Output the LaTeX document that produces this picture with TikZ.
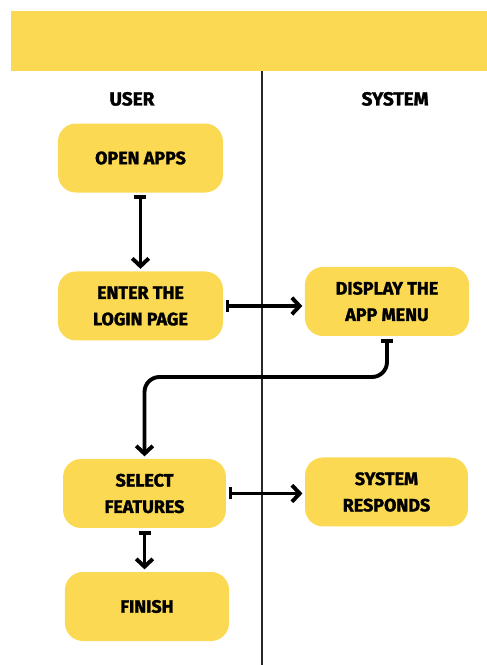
\documentclass[tikz,border=0pt]{standalone}
\usepackage{fontspec}
\setmainfont{Fira Sans}[BoldFeatures={FakeBold=1.6}]
\usetikzlibrary{arrows.meta, positioning, calc}
\definecolor{cYellow}{RGB}{252,217,82}
\definecolor{cLine}{RGB}{40,40,40}
\tikzset{
	process/.style  ={rectangle, rounded corners=0.6cm, minimum width=5.5cm, minimum height=2.3cm, align=center, fill=cYellow, font=\fontsize{17}{25}\selectfont\bfseries},
	lanehead/.style ={font=\fontsize{18}{20}\selectfont\bfseries},
	% swimlane connectors
	flowarrow/.style={{Bar[width=4mm]}-{Straight Barb[length=2.6mm, width=5.5mm]}, line width=1.3mm, shorten <=0.8mm, shorten >=0.8mm},
}
\begin{document}
\begin{tikzpicture}
	\useasboundingbox (0,0) rectangle (16.233,22.167);
	\fill[cYellow] (0.367,19.8) rectangle (16.233,21.8);
	\draw[cLine, line width=0.6mm] (8.733,19.8) -- (8.733,0);
	\node[lanehead] (user) at (4.4,18.87) {USER};
	\node[lanehead] (system) at (13.17,18.87) {SYSTEM};
	\node[process] (open) at (4.683,16.9) {OPEN APPS};
	\node[process] (enter) at (4.683,11.967) {ENTER THE\\LOGIN PAGE};
	\node[process, minimum width=5.47cm] (display) at (12.9,12.117) {DISPLAY THE\\APP MENU};
	\node[process, minimum width=5.43cm] (select) at (4.817,5.717) {SELECT\\FEATURES};
	\node[process, minimum width=5.43cm] (responds) at (12.883,5.767) {SYSTEM\\RESPONDS};
	\node[process, minimum width=5.47cm] (finish) at (4.9,1.95) {FINISH};
	\coordinate (turn) at (0,9.6);
	\draw[flowarrow] (open) -- (enter);
	\draw[flowarrow] (enter) -- (enter -| display.west);
	\draw[flowarrow, rounded corners=0.5cm] (display.south) |- (turn -| select.north) -- (select.north);
	\draw[flowarrow] (select) -- (select -| responds.west);
	\draw[flowarrow] (select.south) -- (select.south |- finish.north);
\end{tikzpicture}
\end{document}
